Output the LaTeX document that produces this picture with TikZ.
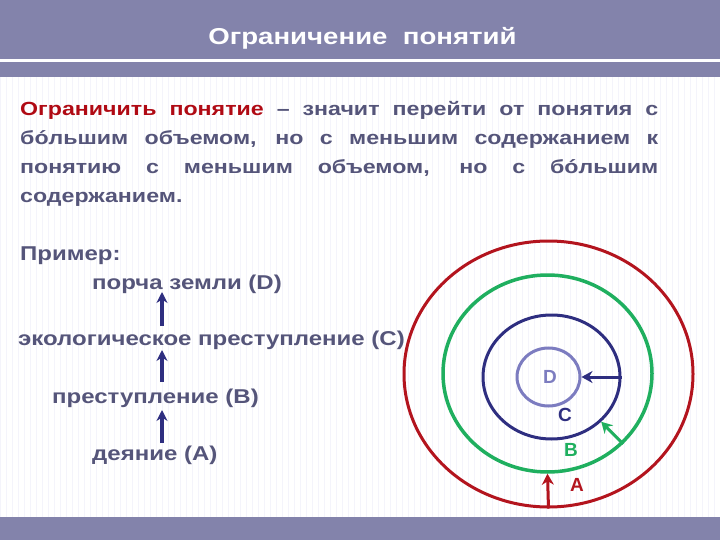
\documentclass[tikz,border=0pt]{standalone}
\usepackage{fontspec}
\setmainfont{Liberation Sans}
\newfontfamily\bodysans[FakeStretch=1.22]{Liberation Sans}
\newfontfamily\exsans[FakeStretch=1.2]{Liberation Sans}
\newfontfamily\titlesans[FakeStretch=1.2]{Liberation Sans}
\usetikzlibrary{arrows.meta,shapes.geometric}
\definecolor{barcol}{HTML}{8383AB}
\definecolor{txtcol}{HTML}{55557A}
\definecolor{redcol}{HTML}{B00A14}
\definecolor{circred}{HTML}{B3141E}
\definecolor{circgreen}{HTML}{1FAF5F}
\definecolor{circnavy}{HTML}{2E2E80}
\definecolor{circlight}{HTML}{7C7CC0}
\definecolor{gridcol}{HTML}{F4F4FB}
\begin{document}
\begin{tikzpicture}[x=1pt,y=-1pt,
  bodytxt/.style={anchor=base west,inner sep=0pt,text=txtcol,font=\bodysans\fontsize{19}{22}\selectfont\bfseries},
  extxt/.style={anchor=base west,inner sep=0pt,text=txtcol,font=\exsans\fontsize{20}{22}\selectfont\bfseries},
  uparrow/.style={line width=4pt,draw=circnavy,-{Stealth[length=11pt,width=11pt]}},
  ring/.style={ellipse,draw,inner sep=0pt,line width=3pt},
  ringarrow/.style={line width=3pt,-{Stealth[length=11pt,width=12pt]}},
  ringlabel/.style={inner sep=0pt,font=\fontsize{19}{20}\selectfont\bfseries}]
\useasboundingbox (0,0) rectangle (720,540);
\fill[white] (0,0) rectangle (720,540);
\draw[gridcol,line width=0.8pt,step=6] (0,77) grid (720,517);
% bars
\fill[barcol] (0,0) rectangle (720,59);
\fill[barcol] (0,62) rectangle (720,77);
\fill[barcol] (0,517) rectangle (720,540);
\node[anchor=base,inner sep=0pt,text=white,font=\titlesans\fontsize{23}{25}\selectfont\bfseries] (title) at (362.5,45) {Ограничение\ \ понятий};
% body
\node[bodytxt] (l1) at (20,116) {\makebox[638pt][s]{\textcolor{redcol}{Ограничить понятие} – значит перейти от понятия с}};
\node[bodytxt] (l2) at (20,145) {\makebox[638pt][s]{бóльшим объемом, но с меньшим содержанием к}};
\node[bodytxt] (l3) at (20,174) {\makebox[638pt][s]{понятию с меньшим объемом, но с бóльшим}};
\node[bodytxt] (l4) at (20,203) {содержанием.};
% example
\node[extxt] (ex) at (20,260) {Пример:};
\node[extxt] (D) at (92,289) {порча земли (D)};
\node[extxt] (C) at (18,345) {экологическое преступление (C)};
\node[extxt] (B) at (52,403) {преступление (B)};
\node[extxt] (A) at (92,460) {деяние (A)};
\coordinate (a1s) at (162,326); \coordinate (a1e) at (162,292);
\coordinate (a2s) at (162,382); \coordinate (a2e) at (162,350);
\coordinate (a3s) at (162,443); \coordinate (a3e) at (162,410);
\draw[uparrow] (a1s) -- (a1e);
\draw[uparrow] (a2s) -- (a2e);
\draw[uparrow] (a3s) -- (a3e);
% rings
\node[ring,draw=circred,minimum width=289pt,minimum height=266pt] (rA) at (548.5,374) {};
\node[ring,draw=circgreen,line width=3.5pt,minimum width=209pt,minimum height=197pt] (rB) at (547.5,373.5) {};
\node[ring,draw=circnavy,minimum width=137pt,minimum height=124pt] (rC) at (551.5,377) {};
\node[ring,draw=circlight,minimum width=63pt,minimum height=58pt] (rD) at (548.5,377) {};
\node[ringlabel,text=circlight] (lD) at (550,377) {D};
\node[ringlabel,text=circnavy] (lC) at (565,415) {C};
\node[ringlabel,text=circgreen] (lB) at (571,450) {B};
\node[ringlabel,text=circred] (lA) at (577,485) {A};
\draw[ringarrow,draw=circnavy] (rC.east) -- (rD.east);
\draw[ringarrow,draw=circgreen] (rB.-43) -- (rC.-42);
\draw[ringarrow,draw=circred] (rA.south) -- (rB.south);
\end{tikzpicture}
\end{document}
